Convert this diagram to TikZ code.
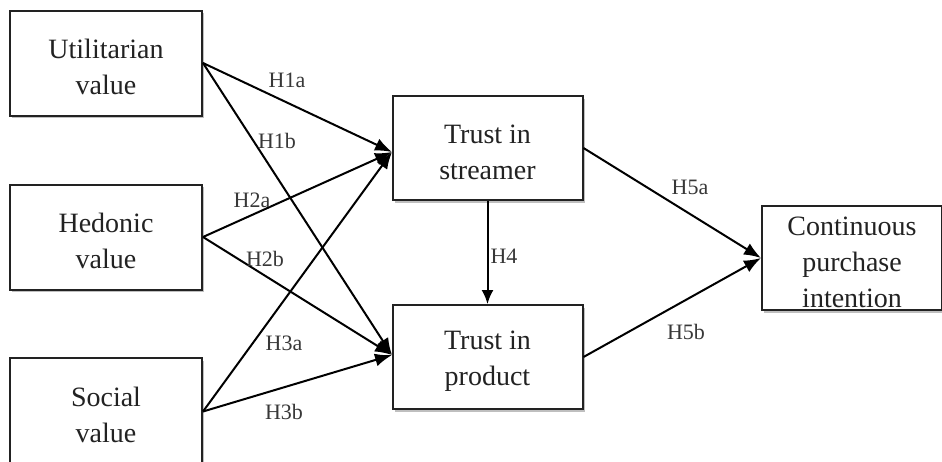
\documentclass[tikz,border=0pt]{standalone}
\usepackage{fontspec}
\setmainfont{Liberation Serif}
\usetikzlibrary{arrows.meta,shadows}
\definecolor{ink}{HTML}{222222}
% taller first line, so the text sits a little low in its box
\newcommand{\toplift}{\rule{0pt}{27pt}}
\tikzset{
  box/.style={draw=ink, line width=2pt, fill=white, align=center, text=ink,
    font=\fontsize{28}{36}\selectfont, inner sep=0pt,
    drop shadow={shadow xshift=2pt, shadow yshift=-2.5pt, opacity=0.25, fill=black}},
  link/.style={draw=black, line width=2pt, -{Latex[length=17pt,width=13pt]}},
  hyp/.style={font=\fontsize{22}{24}\selectfont, text=ink!90, inner sep=0pt}
}
\begin{document}
\begin{tikzpicture}[x=1pt,y=-1pt]
\clip (0,0) rectangle (942,461);
\fill[white] (0,0) rectangle (942,461);

% constructs
\node[box, minimum width=192pt, minimum height=105pt] (uv) at (106,63) {\toplift Utilitarian\\value};
\node[box, minimum width=192pt, minimum height=105pt] (hv) at (106,237) {\toplift Hedonic\\value};
\node[box, minimum width=192pt, minimum height=107pt] (sv) at (106,411.5) {\toplift Social\\value};
\node[box, minimum width=190pt, minimum height=104pt] (ts) at (487.5,148) {\toplift Trust in\\streamer};
\node[box, minimum width=190pt, minimum height=104pt] (tp) at (487.5,357) {\toplift Trust in\\product};
\node[box, minimum width=180pt, minimum height=104pt] (cpi) at (852,258) {\toplift Continuous\\purchase\\intention};

% hypothesised paths
\coordinate (tsin) at (392,152);
\coordinate (tpin) at (392,355);
\draw[link] (uv.east) -- (tsin);
\draw[link] (uv.east) -- (tpin);
\draw[link] (hv.east) -- (tsin);
\draw[link] (hv.east) -- (tpin);
\draw[link] (sv.east) -- (tsin);
\draw[link] (sv.east) -- (tpin);
\draw[link, -{Latex[length=14pt,width=12pt]}] (ts.south) -- (tp.north);
\draw[link] (ts.east) -- (cpi.west);
\draw[link] (tp.east) -- (cpi.west);

% path labels
\node[hyp] (l1a) at (287,80) {H1a};
\node[hyp] (l1b) at (277,141) {H1b};
\node[hyp] (l2a) at (252,200) {H2a};
\node[hyp] (l2b) at (265,259) {H2b};
\node[hyp] (l3a) at (284,343) {H3a};
\node[hyp] (l3b) at (284,412) {H3b};
\node[hyp] (l4) at (504,256) {H4};
\node[hyp] (l5a) at (690,187) {H5a};
\node[hyp] (l5b) at (686,332) {H5b};
\end{tikzpicture}
\end{document}
